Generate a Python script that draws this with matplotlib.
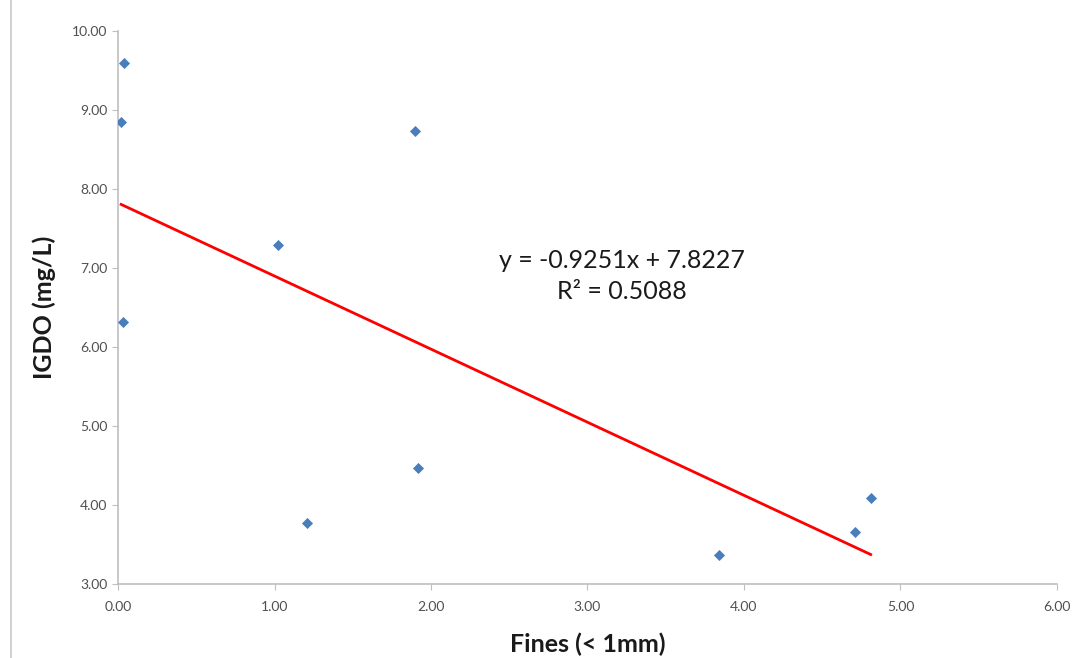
import matplotlib
matplotlib.use("Agg")
import matplotlib.pyplot as plt
import numpy as np
from matplotlib.lines import Line2D

plt.rcParams['font.family'] = ['Lato', 'DejaVu Sans']

fines = [0.04, 0.02, 0.03, 1.02, 1.21, 1.90, 1.92, 3.84, 4.71, 4.81]
igdo = [9.59, 8.85, 6.32, 7.29, 3.77, 8.73, 4.47, 3.37, 3.66, 4.09]
slope = -0.9251
intercept = 7.8227
r2 = 0.5088
xticks = [0, 1, 2, 3, 4, 5, 6]
yticks = [3, 4, 5, 6, 7, 8, 9, 10]

fig = plt.figure(figsize=(10.73, 6.58), dpi=100)
ax = fig.add_axes([0.110, 0.1125, 0.875, 0.8405])

ax.scatter(fines, igdo, marker='D', s=32, color='#4a7ebb', zorder=3, linewidths=0)
xl = np.array([min(fines), max(fines)])
ax.plot(xl, slope * xl + intercept, color='#ff0000', lw=2, zorder=2)

ax.set_xlim(0, 6)
ax.set_ylim(3, 10)
ax.set_xticks(xticks)
ax.set_yticks(yticks)
ax.set_xticklabels([f"{v:.2f}" for v in xticks])
ax.set_yticklabels([f"{v:.2f}" for v in yticks])
for s in ['top', 'right']:
    ax.spines[s].set_visible(False)
for s in ['left', 'bottom']:
    ax.spines[s].set_color('#bfbfbf')
    ax.spines[s].set_linewidth(1.2)
ax.tick_params(axis='both', colors='#bfbfbf', labelcolor='#505050', labelsize=10, length=4, direction='out')
ax.tick_params(axis='x', pad=8)

ax.set_xlabel('Fines (< 1mm)', fontsize=18, fontweight='bold', color='#1a1a1a', labelpad=14)
ax.set_ylabel('IGDO (mg/L)', fontsize=18, fontweight='bold', color='#1a1a1a', labelpad=12)

ax.text(3.22, 6.90, f"y = {slope:.4f}x + {intercept:.4f}\nR² = {r2:.4f}", fontsize=18,
        ha='center', va='center', color='#1a1a1a', linespacing=1.45)

fig.add_artist(Line2D([11/1073, 11/1073], [0, 1], color='#c8c8c8', lw=1.2, transform=fig.transFigure))

fig.savefig('out.png', dpi=100)
